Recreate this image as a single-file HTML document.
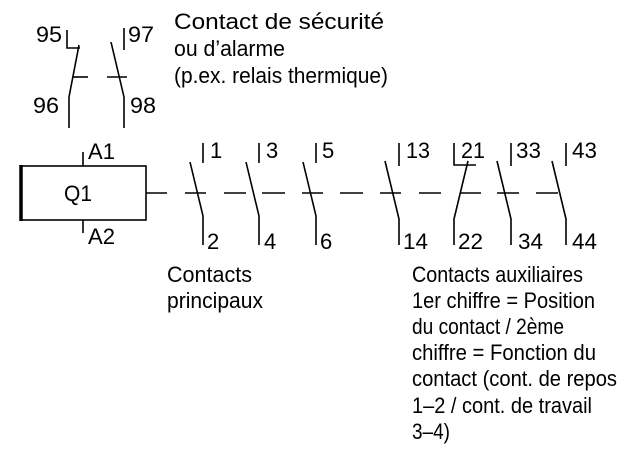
<!DOCTYPE html>
<html><head><meta charset="utf-8"><style>
html,body{margin:0;padding:0;background:#fff;}
svg{display:block;}
text{font-family:"Liberation Sans",sans-serif;font-size:22px;fill:#000;}
</style></head><body>
<svg width="640" height="468" viewBox="0 0 640 468" xmlns="http://www.w3.org/2000/svg">
<g stroke="#000" stroke-width="1.6" fill="none">
<polyline points="67,30 67,48 80,48"/>
<line x1="79" y1="45" x2="69" y2="97"/>
<line x1="69" y1="97" x2="69" y2="128"/>
<line x1="73" y1="77" x2="88" y2="77"/>
<line x1="124" y1="28" x2="124" y2="50"/>
<line x1="111" y1="42" x2="124" y2="97"/>
<line x1="124" y1="97" x2="124" y2="128"/>
<line x1="107" y1="77" x2="127" y2="77"/>
<rect x="21" y="166" width="125" height="54"/>
<line x1="21" y1="165" x2="21" y2="221" stroke-width="3.5"/>
<line x1="83" y1="152" x2="83" y2="166"/>
<line x1="83" y1="220" x2="83" y2="233"/>
<line x1="146" y1="193" x2="167" y2="193"/>
<line x1="185" y1="193" x2="206" y2="193"/>
<line x1="224" y1="193" x2="246" y2="193"/>
<line x1="262" y1="193" x2="285" y2="193"/>
<line x1="302" y1="193" x2="323" y2="193"/>
<line x1="340" y1="193" x2="363" y2="193"/>
<line x1="380" y1="193" x2="401" y2="193"/>
<line x1="419" y1="193" x2="441" y2="193"/>
<line x1="460" y1="193" x2="481" y2="193"/>
<line x1="497" y1="193" x2="519" y2="193"/>
<line x1="536" y1="193" x2="558" y2="193"/>
<line x1="203" y1="143" x2="203" y2="163"/><polyline points="190,162 203,216 203,245"/>
<line x1="259" y1="143" x2="259" y2="163"/><polyline points="246,162 259,216 259,245"/>
<line x1="316" y1="143" x2="316" y2="163"/><polyline points="303,162 316,216 316,245"/>
<line x1="399" y1="143" x2="399" y2="166"/><polyline points="385,161 399,219 399,245"/>
<line x1="511" y1="143" x2="511" y2="166"/><polyline points="497,161 511,219 511,245"/>
<line x1="566" y1="143" x2="566" y2="166"/><polyline points="552,161 566,219 566,245"/>
<polyline points="454,143 454,165 476,165"/>
<polyline points="468,161 454,219 454,245"/>
</g>
<text x="36" y="42" textLength="26" lengthAdjust="spacingAndGlyphs">95</text>
<text x="128" y="42" textLength="26" lengthAdjust="spacingAndGlyphs">97</text>
<text x="33" y="113" textLength="26" lengthAdjust="spacingAndGlyphs">96</text>
<text x="130" y="113" textLength="26" lengthAdjust="spacingAndGlyphs">98</text>
<text x="174" y="29" textLength="210" lengthAdjust="spacingAndGlyphs">Contact de sécurité</text>
<text x="174" y="56" textLength="111" lengthAdjust="spacingAndGlyphs">ou d’alarme</text>
<text x="174" y="83" textLength="214" lengthAdjust="spacingAndGlyphs">(p.ex. relais thermique)</text>
<text x="64" y="201" textLength="28" lengthAdjust="spacingAndGlyphs">Q1</text>
<text x="88" y="159" textLength="27" lengthAdjust="spacingAndGlyphs">A1</text>
<text x="88" y="244" textLength="27" lengthAdjust="spacingAndGlyphs">A2</text>
<text x="210" y="158">1</text>
<text x="266" y="158">3</text>
<text x="322" y="158">5</text>
<text x="406" y="158" textLength="24" lengthAdjust="spacingAndGlyphs">13</text>
<text x="461" y="158" textLength="24" lengthAdjust="spacingAndGlyphs">21</text>
<text x="516" y="158" textLength="25" lengthAdjust="spacingAndGlyphs">33</text>
<text x="572" y="158" textLength="25" lengthAdjust="spacingAndGlyphs">43</text>
<text x="207" y="249">2</text>
<text x="264" y="249">4</text>
<text x="320" y="249">6</text>
<text x="403" y="249" textLength="25" lengthAdjust="spacingAndGlyphs">14</text>
<text x="458" y="249" textLength="25" lengthAdjust="spacingAndGlyphs">22</text>
<text x="518" y="249" textLength="25" lengthAdjust="spacingAndGlyphs">34</text>
<text x="572" y="249" textLength="25" lengthAdjust="spacingAndGlyphs">44</text>
<text x="167" y="282" textLength="85" lengthAdjust="spacingAndGlyphs">Contacts</text>
<text x="167" y="308" textLength="96" lengthAdjust="spacingAndGlyphs">principaux</text>
<text x="412" y="282" textLength="171" lengthAdjust="spacingAndGlyphs">Contacts auxiliaires</text>
<text x="412" y="308" textLength="183" lengthAdjust="spacingAndGlyphs">1er chiffre = Position</text>
<text x="412" y="334" textLength="152" lengthAdjust="spacingAndGlyphs">du contact / 2ème</text>
<text x="412" y="360" textLength="184" lengthAdjust="spacingAndGlyphs">chiffre = Fonction du</text>
<text x="412" y="386" textLength="205" lengthAdjust="spacingAndGlyphs">contact (cont. de repos</text>
<text x="412" y="413" textLength="180" lengthAdjust="spacingAndGlyphs">1–2 / cont. de travail</text>
<text x="412" y="439" textLength="38" lengthAdjust="spacingAndGlyphs">3–4)</text>
</svg>
</body></html>
